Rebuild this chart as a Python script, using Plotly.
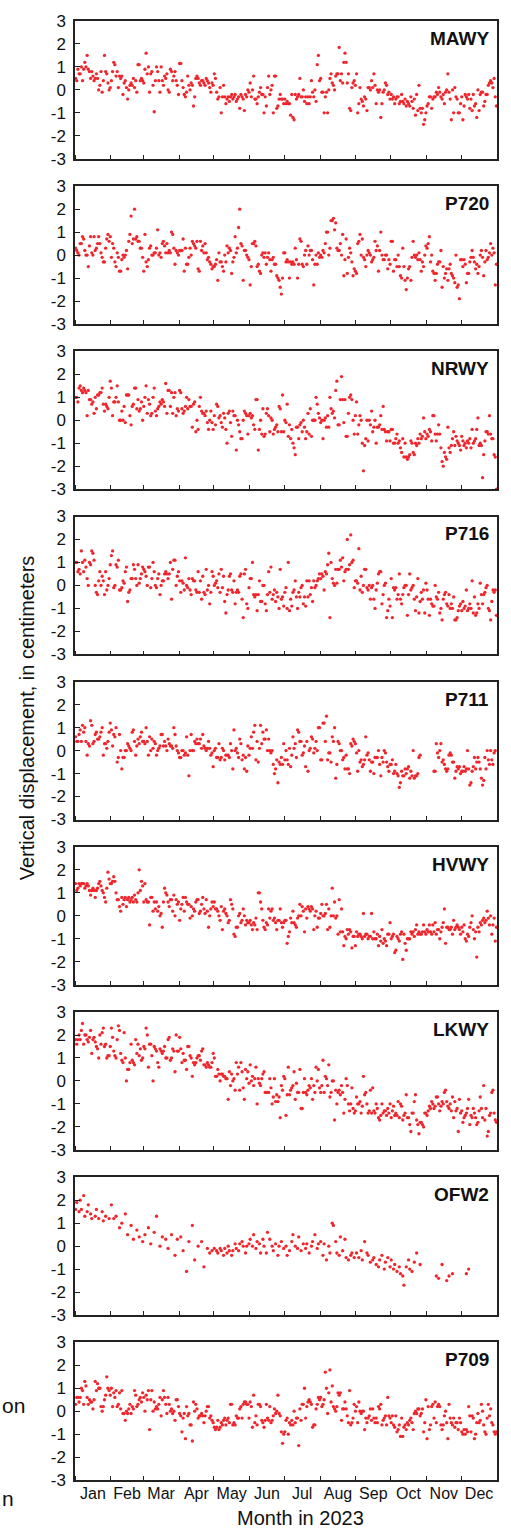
import datetime as dt
import plotly.graph_objects as go

STATIONS = ["MAWY", "P720", "NRWY", "P716", "P711", "HVWY", "LKWY", "OFW2", "P709"]
MONTHS = ["Jan", "Feb", "Mar", "Apr", "May", "Jun", "Jul", "Aug", "Sep", "Oct", "Nov", "Dec"]
YTICKS = [-3, -2, -1, 0, 1, 2, 3]
N = None

# daily vertical displacement (cm), one list per month
MAWY = [
 [0.5,0.4,0.9,0.7,0.7,1.0,0.4,0.9,1.2,1.0,1.5,0.9,0.8,0.5,0.8,0.6,0.4,0.5,0.7,0.5,0.0,0.2,0.8,-0.1,0.4,1.5,0.8,0.7,0.3,0.0,0.1],
 [0.4,0.8,1.2,1.1,0.6,0.8,0.1,0.6,0.5,0.6,-0.2,0.3,0.4,0.1,-0.4,0.0,0.2,0.3,0.2,0.5,0.1,0.4,-0.1,1.1,1.1,0.4,0.5,0.4],
 [0.3,0.9,1.6,0.7,1.0,-0.1,0.7,0.8,0.2,-0.95,0.4,1.0,0.8,0.4,-0.1,1.0,0.4,0.2,0.6,0.5,0.7,0.0,-0.1,0.9,0.8,0.4,0.6,0.8,0.4,0.2,-0.2],
 [1.15,1.15,0.4,0.1,-0.2,-0.3,-0.1,0.6,0.2,0.0,0.3,0.2,-0.7,-0.3,0.5,0.6,0.5,0.3,0.2,0.4,0.4,0.3,0.2,0.5,0.4,0.3,0.1,-0.1,0.3,0.2],
 [0.7,0.5,-0.1,-0.4,-0.3,0.1,-1.0,-0.3,0.2,-0.3,-0.6,-0.4,-0.3,-0.5,-0.3,-0.2,-0.4,-0.3,-0.2,-0.5,-0.4,-0.3,-0.8,-0.2,-0.3,-0.4,-0.9,-0.2,-0.3,0.0,-0.1],
 [0.3,-0.3,0.0,0.6,-0.4,-0.4,-0.6,-0.3,-0.1,0.1,-0.2,-0.2,-1.0,-0.3,-0.7,0.1,0.6,-0.2,0.0,0.2,-1.0,0.6,0.6,-0.8,-0.7,-0.4,-0.2,-0.4,-0.4,-0.6],
 [-0.4,-0.6,-0.5,-0.6,-0.6,-1.1,-0.2,-1.2,-1.3,-0.2,-0.4,-0.3,-0.2,0.5,-0.3,-0.3,0.0,-0.5,-0.3,-0.6,-0.3,-0.6,-0.3,0.4,-0.1,-0.3,0.0,-0.5,1.1,1.5,0.4],
 [0.5,-0.1,-0.1,-1.0,-0.3,-0.1,-1.0,0.0,0.5,0.7,0.3,0.2,0.0,0.6,0.7,0.7,1.85,0.4,0.7,0.3,1.2,1.6,1.2,0.3,0.7,-0.8,-0.9,0.1,0.3,0.4,0.2],
 [0.7,-1.0,-0.6,0.1,-0.4,-0.5,-0.7,-0.3,-0.4,-0.9,0.1,0.1,0.0,0.4,0.1,0.7,0.2,-0.6,0.0,-0.1,0.0,-1.2,-0.6,-0.1,0.0,0.3,0.2,-0.2,-0.1,-0.4],
 [-0.2,-0.4,-0.3,-0.6,-0.4,-0.3,-0.3,-0.6,-0.5,-0.2,-0.5,-0.6,-0.4,-0.7,-0.5,-0.6,-0.7,-0.3,-0.5,-0.8,-0.4,-1.1,-0.2,-0.9,0.2,-0.8,-1.0,-0.8,-1.5,-1.3,-1.0],
 [-0.7,-0.6,-0.3,-0.3,-0.8,-0.4,-0.3,-0.3,-0.1,-0.2,0.1,-0.1,-0.3,-0.4,-0.2,-0.6,-0.1,0.0,0.7,-0.1,-0.4,-1.3,0.0,-1.0,0.1,-0.3,-0.4,-1.0,-1.0,-0.6],
 [-0.3,-1.3,-0.7,-0.2,-0.3,-0.4,-0.2,-0.8,-0.4,-0.9,-0.2,-0.7,-0.6,-1.2,0.0,-0.9,-0.2,-0.1,-0.1,-0.7,-0.5,-0.2,-0.2,0.2,0.3,0.4,0.3,0.1,0.5,-0.3,-0.7],
]
P720 = [
 [0.3,0.2,0.1,0.0,0.5,0.5,0.8,0.7,0.2,0.0,0.0,-0.5,0.4,0.8,0.1,0.0,0.8,0.2,0.3,0.5,0.8,0.5,0.1,-0.1,-0.3,-0.3,0.3,0.7,0.9,0.6,0.8],
 [-0.1,0.5,0.3,-0.3,-0.5,0.1,-0.1,-0.7,-0.7,-0.2,0.0,-0.1,0.0,0.2,-0.6,0.6,0.9,1.7,0.5,0.7,2.0,0.7,0.8,0.6,0.6,0.3,0.3,-0.1],
 [-0.7,0.9,-0.3,-0.5,-0.2,0.3,0.4,0.0,0.0,0.1,0.1,0.3,1.1,0.0,0.1,-0.1,0.5,0.6,0.4,0.1,0.5,0.1,0.2,0.1,1.0,0.9,0.3,-0.4,0.2,0.1,0.0],
 [0.2,0.2,0.2,0.7,-0.7,0.3,-0.4,-0.4,-0.1,0.3,0.0,0.6,0.5,0.4,0.3,0.6,-0.6,-0.7,0.6,0.2,0.4,0.1,0.5,0.1,-0.2,-0.1,-0.3,-0.4,-0.6,-0.5],
 [-0.5,-0.4,-0.2,-1.1,0.1,-0.3,-0.3,-0.5,-0.7,0.0,-0.3,0.4,0.1,0.3,0.2,-0.8,-0.3,-0.1,0.8,0.1,0.3,1.2,2.0,0.5,0.4,-1.1,0.2,0.2,0.0,-0.1,-0.2],
 [-1.3,-0.5,0.5,0.5,0.6,0.4,-0.5,-0.4,-0.7,-0.8,0.0,0.1,-0.1,0.1,-0.4,-0.1,0.1,-0.2,-0.7,-0.2,-0.1,-0.4,-0.4,-0.9,-1.0,-1.1,-1.4,-1.7,-1.0,0.1],
 [0.1,-0.3,-0.2,-0.3,-1.0,-0.3,-0.4,-0.3,-0.4,0.3,-0.2,-1.0,-0.4,0.7,0.6,-0.4,-0.5,0.0,0.2,-0.4,0.4,0.0,0.2,0.2,-0.2,-1.3,-0.4,0.0,-0.4,0.1,-0.1],
 [0.0,-0.1,0.2,0.1,0.5,1.0,1.0,0.0,0.3,1.5,1.5,1.6,1.1,1.4,0.3,0.2,0.2,0.5,0.0,0.9,-0.9,-0.2,0.7,-0.8,-0.1,0.3,0.1,-0.3,-0.9,-0.6,-0.7],
 [-0.8,0.5,0.6,0.9,0.0,0.7,-0.1,-0.2,-0.5,0.0,0.2,0.1,0.0,-0.3,-0.2,-0.1,0.6,0.2,0.4,-0.7,0.2,1.0,0.0,-0.2,-0.2,0.0,0.0,-0.6,-0.2,-0.4],
 [0.6,0.6,-0.7,-0.2,-0.2,-0.5,0.0,-0.5,-0.9,-1.0,0.3,-0.5,-1.1,-1.5,-1.0,-0.6,-0.5,-1.1,-0.1,0.6,0.0,-0.1,0.0,-0.2,0.1,-0.2,-0.7,-0.3,-0.5,0.0,0.4],
 [0.3,0.5,0.8,-0.3,0.0,-0.7,-0.8,-1.1,-0.8,-0.4,-0.3,-0.3,0.2,-1.4,-0.5,-1.0,-0.8,-0.6,-1.1,-0.6,-0.4,-0.8,-0.9,-1.0,-1.2,0.0,-1.4,-1.3,-1.9,-0.2],
 [-0.2,-0.5,-0.2,-0.4,-1.2,-0.8,-0.8,-0.3,-0.1,0.2,-0.1,-0.3,-0.6,-0.4,-0.8,-0.5,0.0,0.2,-0.1,-0.9,-0.3,0.2,-0.2,-0.1,0.1,0.5,0.0,0.3,0.1,-1.3,-0.4],
]
NRWY = [
 [1.0,1.0,0.8,1.4,1.5,1.3,1.2,1.4,1.3,1.2,0.2,1.3,0.9,0.9,0.7,0.8,0.3,1.0,0.5,1.1,1.1,1.2,1.2,1.4,0.7,0.4,0.7,0.6,0.5,1.0,1.7],
 [1.4,0.2,0.8,0.8,1.0,1.5,0.8,0.0,0.0,0.4,0.0,0.6,-0.1,1.1,1.1,1.1,0.2,-0.2,0.6,0.7,1.4,1.4,0.5,0.9,0.4,0.5,0.8,0.0],
 [0.6,1.0,1.5,0.3,0.9,0.7,0.2,0.3,1.0,1.4,0.4,0.2,0.5,0.6,0.8,0.7,0.9,0.8,0.6,1.6,0.3,1.3,1.3,0.6,1.2,0.3,1.0,1.2,0.2,0.5,0.4],
 [1.3,1.2,0.5,0.3,0.4,0.6,1.0,0.5,0.9,0.6,0.6,-0.3,0.7,0.8,-0.5,0.0,-0.4,0.6,1.0,0.4,0.3,0.3,0.2,0.4,-0.1,-0.4,0.0,0.4,-0.1,-0.4],
 [0.2,-0.2,0.7,0.6,0.1,0.2,-0.1,-0.3,0.3,0.1,-0.4,-1.0,0.3,0.4,-0.1,-0.7,0.4,0.2,0.2,-1.3,0.0,-0.2,-0.5,-0.8,-0.8,0.0,0.4,0.3,0.2,-0.6,0.2],
 [0.3,0.1,0.2,-0.2,-0.4,0.9,0.9,-1.3,-0.4,0.0,-0.6,0.5,-0.7,-0.6,0.3,0.5,0.2,-0.5,0.1,0.0,-0.6,-0.4,-0.3,-0.2,-0.5,0.6,0.5,-0.5,1.1,-0.5],
 [0.0,-0.1,0.7,-0.7,-0.2,-0.8,-0.4,-1.0,-1.2,-1.5,-0.3,-0.3,-0.8,-0.2,-0.1,-0.5,0.0,-0.3,-0.8,-0.5,0.3,-0.6,0.5,-0.7,0.0,0.0,0.0,1.0,0.7,0.3,0.1],
 [-0.1,0.0,-0.8,0.0,0.1,-0.3,0.2,-0.3,1.0,0.5,0.3,0.4,0.1,1.3,1.7,-0.2,-0.2,0.9,1.9,0.9,-0.1,0.9,-0.7,-0.7,0.3,1.0,1.1,0.9,0.0,-0.6,0.2],
 [0.8,-0.6,-0.2,0.2,0.0,-1.0,-2.2,-1.1,-0.8,0.0,-0.9,0.0,-0.2,0.4,-0.5,-0.3,0.0,-1.0,-0.3,-0.3,-0.2,0.2,-0.4,0.6,-0.4,-0.5,-0.9,-0.5,-0.5,-0.9],
 [-0.4,-0.4,-1.0,-1.0,-0.8,-0.6,-1.0,-0.9,-1.2,-1.4,-0.8,-1.6,-1.0,-1.6,-1.7,-1.6,-1.5,-0.9,-1.0,-1.4,-1.5,-1.0,-1.1,-0.8,-1.0,-0.6,-0.8,-0.7,0.1,-0.5,-0.8],
 [-0.6,-0.7,-0.4,-0.5,-0.9,0.2,0.2,-0.6,-0.9,-0.6,-0.2,-0.6,-1.2,-1.8,-2.0,-1.4,-1.6,-1.7,-0.3,-1.2,-1.4,-1.1,-0.8,-0.5,-1.1,-0.7,-0.9,-1.0,-1.1,-1.3],
 [-0.7,-0.9,-1.1,-1.0,-1.2,-0.9,-1.0,-0.8,-1.2,-0.4,-1.0,-0.9,-0.8,-0.4,0.1,-1.1,-1.0,-1.1,-2.5,-1.5,-0.9,-0.5,-0.5,-0.6,0.2,-0.6,-0.8,-0.8,-1.5,-1.6,-3.0],
]
P716 = [
 [1.0,1.0,0.6,0.7,0.5,1.5,1.0,0.6,1.1,0.8,0.3,0.0,1.0,0.9,1.5,1.4,1.1,0.0,-0.3,-0.4,0.2,0.6,0.0,0.4,0.2,-0.4,0.6,-0.2,0.0,0.3,0.9],
 [1.3,1.5,-0.1,0.0,0.9,0.8,1.1,-0.2,-0.2,-0.1,0.2,0.1,0.6,0.8,-0.7,-0.3,-0.2,0.3,0.3,0.9,0.7,0.3,0.0,0.9,0.1,0.3,0.5,0.8],
 [0.7,0.6,0.4,0.0,0.8,0.8,-0.1,0.3,1.0,0.6,0.0,-0.1,0.3,0.5,-0.4,0.0,0.2,0.2,0.5,0.6,0.5,0.3,0.5,1.0,-0.6,0.7,1.1,1.1,0.0,0.4,0.6],
 [0.2,-0.3,0.2,0.1,-0.2,1.2,0.0,-0.1,0.3,-0.2,-0.4,0.3,0.2,0.2,-0.2,-0.3,0.6,-0.3,0.2,-0.6,0.4,-0.3,-0.4,0.7,-0.2,0.0,-0.8,-0.3,0.6,0.4],
 [0.0,0.1,0.2,-0.1,0.5,-0.3,0.7,-0.1,0.4,-0.7,-1.2,-0.4,-0.2,0.4,0.5,-0.2,-0.3,0.2,-0.8,-0.3,-0.2,-0.3,0.4,0.5,-0.6,-1.4,0.5,0.7,-0.8,-1.0,-0.1],
 [0.3,0.3,1.0,-0.4,-0.5,-0.4,-1.1,-0.4,0.2,-0.7,-0.7,0.0,0.0,-0.8,-1.1,-0.4,0.6,-0.3,0.8,-0.6,-0.4,-0.2,-0.7,-0.3,-0.5,-1.0,0.7,-0.6,-0.5,-0.9],
 [-0.3,-0.1,-1.0,1.0,-1.1,-0.6,-0.9,-0.3,-0.2,0.2,-0.5,-1.0,-0.3,-0.5,-0.1,0.0,-0.8,-0.5,-0.9,0.2,-0.5,0.2,-0.4,-0.1,-0.7,0.2,-0.1,0.0,0.2,0.3,0.5],
 [0.3,0.5,0.4,-0.2,0.6,0.5,0.9,1.4,-1.4,1.0,0.3,0.1,0.0,0.7,0.1,0.7,0.7,1.1,0.8,1.2,0.2,0.6,0.7,2.0,0.7,0.9,2.2,1.0,1.1,-0.1,0.2],
 [0.2,0.1,1.6,-0.2,0.4,-0.3,0.0,0.7,0.7,-0.1,-0.2,0.0,-0.6,-0.1,0.0,-0.6,-1.0,-0.2,0.1,0.5,0.6,0.6,-0.8,-0.4,0.0,0.1,-1.4,-1.1,-0.6,-0.9],
 [0.3,-1.4,-0.1,-0.2,-0.1,-0.6,-0.4,0.5,-0.6,-0.8,-0.4,-0.1,0.0,0.0,-1.3,-0.4,0.5,-0.2,-0.1,0.0,-0.6,-1.1,-0.5,0.3,-1.2,-0.7,-0.3,-0.6,-0.2,-1.2,0.1],
 [-0.2,-0.6,-1.3,-0.6,-0.8,-0.9,-0.9,0.0,-0.5,-0.6,-0.3,-1.2,-1.0,-1.5,-0.6,-0.4,-0.3,-0.8,-0.9,-0.4,-1.0,-0.8,-1.0,-0.5,-1.5,-1.5,-1.4,-1.1,-0.9,-0.8],
 [-1.1,-0.7,-1.0,-0.9,-0.2,-1.1,-1.0,-0.8,-1.0,0.2,-1.2,-0.5,-1.3,-1.2,-0.8,-1.0,0.1,-0.4,-0.8,-0.4,-0.3,-0.1,0.0,-1.0,-1.1,-1.5,-0.7,-0.2,-0.3,-0.2,-1.3],
]
P711 = [
 [0.6,0.4,0.4,0.7,0.9,0.4,1.1,0.8,1.0,0.4,-0.2,0.3,0.2,1.3,1.1,0.3,0.4,0.7,0.8,0.5,0.5,0.6,0.8,1.0,-0.2,0.3,0.3,0.1,0.4,0.8,1.2],
 [0.9,0.2,0.7,0.6,1.0,-0.5,-0.3,0.7,0.0,-0.8,-0.3,-0.3,0.0,0.0,0.3,0.2,0.1,0.0,0.8,0.9,0.4,-0.2,0.2,0.5,0.3,0.6,0.8,0.4],
 [0.4,0.3,1.0,0.4,-0.2,0.6,0.0,0.5,0.1,0.4,0.3,-0.2,0.0,0.1,0.2,0.7,0.7,0.2,0.4,0.2,0.0,0.5,0.3,0.2,0.2,0.1,1.0,0.7,0.2,0.0,-0.1],
 [-0.3,-0.3,0.0,0.0,-0.2,-0.1,0.6,-0.2,-1.1,0.0,0.7,0.0,0.0,0.4,0.3,0.5,0.3,0.3,0.5,0.1,0.7,0.2,0.1,0.0,0.1,0.4,0.1,-0.2,-0.1,-0.7],
 [0.0,0.1,-0.3,-0.3,0.3,-0.4,-0.3,0.1,0.0,-0.4,-0.2,-0.2,-0.2,-0.3,0.3,0.0,-0.8,0.9,0.0,0.1,-0.1,-0.3,0.5,0.3,-0.4,-0.2,-0.8,-0.3,-0.9,0.2,-0.2],
 [0.1,0.6,0.1,0.8,1.1,-0.4,0.4,-0.5,0.1,1.1,0.3,0.8,0.5,0.5,0.9,0.0,0.5,0.0,-0.1,0.0,-0.6,-1.0,-0.8,-0.4,-1.4,-0.5,-0.6,-0.3,-0.6,0.3],
 [-0.4,0.0,-0.4,-0.6,0.1,-0.7,-0.2,0.6,0.1,0.3,-0.3,0.9,0.8,0.4,0.4,-0.2,-0.1,0.2,-0.7,0.4,-0.9,0.0,0.1,0.6,0.5,-0.1,0.1,0.4,0.0,1.0,1.0],
 [-0.4,-0.4,1.2,1.2,0.4,1.5,-0.4,-0.1,-0.1,-0.5,0.6,0.4,1.0,-1.2,-0.6,0.4,0.3,0.0,0.0,-0.4,-0.3,-0.8,-0.2,-0.8,-0.8,-1.0,0.3,0.2,0.5,0.4,0.3],
 [-0.1,-0.9,0.0,-0.5,-0.4,-0.7,-0.6,-0.4,0.6,-0.2,-0.1,-0.4,-0.9,-0.5,-0.5,-1.0,-0.3,-0.3,-0.3,0.0,-0.6,-1.1,-0.3,-0.5,0.0,-0.1,-0.5,-0.7,-0.9,-0.6],
 [-0.6,-0.4,-1.0,-0.9,-0.6,-1.0,-1.1,-1.6,-1.4,-0.9,-1.1,-1.1,-0.8,-1.0,-0.8,-0.7,-1.2,-0.9,-1.1,0.0,-1.2,-1.1,-1.1,-1.0,-0.3,-0.2,N,N,N,N,N],
 [N,N,N,N,N,N,-0.9,-0.9,0.3,-0.1,-0.3,0.0,0.3,-0.5,-0.4,-0.6,-0.8,-0.9,-0.8,-0.2,-0.1,-0.2,-0.5,-0.5,-1.2,-0.9,-0.7,-0.8,-0.7,-1.0],
 [-0.9,-0.9,-0.7,-0.9,-0.8,0.0,-0.8,-1.5,-1.4,-0.9,-0.7,-0.3,-0.8,-0.5,-0.3,-0.5,-0.8,-1.2,-1.5,-1.3,-0.3,-0.8,0.0,-0.4,-0.6,0.0,-0.4,-0.6,-0.1,0.0,N],
]
HVWY = [
 [1.4,1.1,1.2,1.4,1.3,1.4,1.4,1.4,1.2,1.3,1.4,1.3,1.1,0.9,1.1,1.2,1.1,0.8,1.1,1.2,1.4,1.5,1.3,1.1,1.0,0.8,0.6,1.2,1.9,1.6,1.4],
 [1.4,1.5,1.7,1.5,1.0,0.7,0.7,0.4,0.2,0.8,0.5,0.7,0.8,0.4,0.7,0.8,0.6,0.7,0.8,0.6,0.9,0.7,0.6,1.0,2.0,1.1,1.5,1.3],
 [0.6,1.4,0.7,0.6,0.6,-0.4,0.8,0.8,0.2,0.6,0.3,0.6,0.2,0.4,0.0,0.1,-0.5,0.6,1.2,1.0,0.9,0.6,0.4,0.7,0.7,0.2,0.9,0.0,0.7,0.5,0.6],
 [-0.2,0.3,0.5,0.8,0.2,0.8,0.6,0.5,0.5,-0.1,0.4,0.0,0.3,0.2,0.6,0.7,0.7,0.1,0.2,0.5,0.8,0.3,0.1,0.7,0.2,-0.5,0.0,0.3,0.6,0.4],
 [0.6,0.3,0.3,0.2,0.0,-0.2,0.4,-0.6,0.2,0.3,0.1,0.0,-0.3,-0.2,0.7,0.5,0.3,-0.8,-0.9,-0.5,-0.5,0.0,0.1,-0.3,-0.2,0.3,0.0,-0.4,-0.2,-0.3,-0.3],
 [-0.2,-0.4,-0.6,-0.3,-0.4,-0.1,-0.6,1.0,1.0,0.6,0.3,-0.2,-0.5,-0.6,-0.3,-0.4,0.3,-0.1,0.2,0.3,-0.2,-0.1,-0.3,-0.6,-0.2,-0.2,0.3,-0.3,-0.5,-0.3],
 [-0.2,-0.2,-1.2,-0.9,-0.7,-0.1,-0.3,0.2,-0.3,-0.4,-0.5,-0.1,0.0,0.5,0.0,0.4,0.2,-0.7,0.3,-0.1,0.4,0.3,0.2,0.4,0.3,-0.6,0.0,0.2,-0.5,-0.1,-0.1],
 [0.1,0.5,0.0,0.0,0.1,0.5,-0.6,0.3,-0.5,0.0,1.2,0.0,0.6,-0.1,0.0,-0.8,0.7,-0.7,0.3,-0.7,-1.3,-0.9,-1.0,-0.6,-0.8,-0.6,-0.7,-1.4,-0.9,-0.9,-1.3],
 [-0.7,-0.9,-0.8,-0.8,-0.9,-1.0,0.1,-0.9,-0.8,-0.8,-1.0,-0.9,-0.9,0.1,-1.0,-0.7,-1.0,-1.0,-0.8,-1.3,-0.9,-1.1,-0.6,-1.2,-1.0,-1.1,-1.3,-0.8,-0.8,-0.3],
 [-1.0,-0.9,-0.8,-1.6,-1.5,-0.9,-1.0,-1.1,-0.8,-0.7,-1.9,-0.8,-1.2,-1.5,-1.0,-1.0,-1.0,-0.7,-0.8,-0.7,-0.9,-0.6,-0.4,-0.8,-0.7,-0.8,-0.8,-0.7,-0.4,-0.7,-0.8],
 [-0.6,-0.7,-0.4,-0.7,-0.8,-0.4,-0.7,-0.3,-0.8,-0.6,-0.6,-1.0,-0.7,-0.5,-0.3,0.3,-1.2,-0.5,-0.5,-0.6,-0.6,-0.5,-0.8,-0.2,-0.6,-0.5,-0.4,-0.5,-0.6,-0.8],
 [-0.5,-0.7,-0.4,-1.0,-1.1,-0.8,-0.9,-0.5,-0.3,0.0,-0.6,-1.0,-0.7,-1.8,-0.5,-0.7,-0.3,-0.4,-0.2,-0.1,-0.3,-0.2,0.2,-0.1,-0.4,0.0,-0.8,-0.4,-0.1,-1.1,-0.5],
]
LKWY = [
 [1.8,1.6,1.8,2.0,1.8,2.2,2.5,1.6,2.0,2.0,1.8,1.7,1.9,2.2,1.2,1.8,1.9,1.7,1.5,1.4,1.0,2.0,1.6,2.1,2.3,1.5,1.6,1.0,1.1,1.1,1.5],
 [2.3,1.9,1.3,1.1,1.0,1.8,2.4,2.2,1.2,0.9,0.8,2.1,1.0,0.0,0.5,0.5,0.8,1.6,0.9,0.8,0.7,1.8,1.2,1.6,1.1,1.4,0.9,1.0],
 [1.5,1.4,2.3,2.0,0.6,1.6,1.6,1.1,0.0,1.5,1.4,1.3,0.8,0.6,1.4,1.3,1.2,1.3,1.5,1.0,1.0,1.8,1.9,0.9,1.0,1.4,1.3,0.4,2.0,1.3,1.3],
 [1.9,1.4,0.8,1.2,0.9,0.9,0.5,1.5,1.5,1.1,1.0,0.2,0.8,0.7,0.8,1.0,1.1,1.1,0.9,1.3,1.4,0.7,0.7,0.6,0.8,0.7,0.6,0.6,0.8,1.2],
 [1.0,0.2,0.2,0.5,0.3,0.0,0.3,0.3,0.2,0.2,0.1,0.1,-0.8,0.4,-0.2,0.3,0.0,0.1,-0.4,0.8,0.3,0.6,-0.4,0.8,0.4,-0.3,-0.8,0.5,0.1,0.4,-0.1],
 [0.7,0.0,0.2,-0.2,0.1,0.6,-1.0,0.1,-0.1,-0.2,0.1,0.3,0.4,-0.5,-0.5,-0.5,-0.5,0.1,-0.3,-1.0,-0.7,0.1,-0.9,-0.6,-0.9,-0.7,-1.6,-0.2,-0.4,0.2],
 [0.1,-1.5,-0.6,0.6,-0.6,-0.4,-0.3,-0.2,0.4,-0.8,-0.1,-0.5,-0.5,0.5,-1.2,-1.2,-0.5,0.1,-0.5,-0.6,-0.4,-0.2,-0.3,0.1,-0.8,-0.2,-0.5,0.6,0.0,0.5,-0.3],
 [-0.5,-0.2,0.9,-0.5,0.2,0.1,-0.2,0.7,-0.7,-0.5,0.0,0.0,-1.7,-0.4,-1.0,-0.5,-0.4,-0.6,-0.2,-0.5,-1.4,-0.8,0.1,-0.2,-1.0,-1.3,-1.0,-0.3,-1.2,-1.4,-1.3],
 [-0.7,-1.0,-1.0,-0.9,-1.4,-1.1,0.2,-0.6,-0.5,-1.0,-1.4,-1.3,-0.4,-1.4,-0.3,-1.3,-1.4,-1.0,-1.2,-1.6,-1.7,-1.5,-1.0,-1.4,-1.3,-1.3,-1.5,-1.2,-1.4,-1.0],
 [-1.6,-1.3,-1.1,-1.5,-1.4,-1.5,-0.9,-1.6,-1.0,-1.1,-1.7,-1.5,-1.4,-0.6,-1.6,-1.6,-1.9,-2.2,-1.4,-1.4,-0.9,-0.6,-1.7,-1.9,-2.3,-1.8,-1.8,-1.9,-2.0,-1.4,-1.4],
 [-1.5,-1.3,-1.1,-1.2,-0.9,-1.0,-1.2,-1.1,-0.7,-0.7,-1.0,-1.3,-1.1,-0.9,-1.0,-0.5,-0.4,-0.9,-1.1,-1.2,-1.0,-1.3,-0.7,-1.6,-0.9,-1.3,-1.2,-2.2,-0.8,-1.4],
 [-1.3,-1.8,-1.6,-1.5,-1.4,-1.2,-0.8,-1.9,-1.5,-1.6,-1.2,-1.4,-1.6,-1.9,-1.8,-1.3,-0.7,-1.2,-1.6,-0.2,-1.7,-1.2,-2.4,-2.2,-1.5,-1.4,-0.5,-0.4,-1.4,-1.7,-1.8],
]
OFW2 = [
 [1.6,1.9,N,1.5,2.0,1.6,N,2.2,1.3,N,1.5,1.8,N,1.4,1.2,N,N,1.3,1.6,N,1.2,N,N,1.5,1.1,N,1.3,N,N,1.2,N],
 [1.8,N,1.2,N,1.3,N,N,0.8,N,1.0,N,N,1.4,N,0.5,N,N,0.9,N,0.3,N,N,0.7,N,0.4,N,N,0.2],
 [N,0.5,N,N,0.8,N,0.1,N,N,0.6,N,1.3,N,N,0.0,N,0.4,N,N,0.3,N,-0.1,N,N,0.5,N,N,-0.4,N,0.3,N],
 [N,0.4,N,-0.2,N,N,-1.1,N,0.2,N,N,0.9,N,-0.6,N,N,0.0,N,N,0.2,N,-0.9,N,N,-0.1,N,-0.3,N,-0.2,N],
 [-0.1,N,-0.2,-0.3,N,-0.1,-0.2,N,-0.4,-0.1,N,-0.3,0.0,-0.2,N,-0.4,-0.2,N,0.1,-0.1,N,-0.2,0.1,N,0.2,0.0,N,-0.3,0.0,N,0.1],
 [0.3,N,0.0,0.5,N,-0.1,0.2,N,0.1,-0.3,N,0.3,0.0,N,-0.3,0.6,N,0.3,N,0.0,-0.2,N,0.1,N,-0.4,0.0,N,0.2,N,-0.1],
 [N,0.0,-0.4,N,-0.2,N,0.2,0.5,N,0.0,N,-0.1,0.4,N,-0.2,N,0.1,N,-0.1,0.1,N,-0.3,N,0.0,0.2,N,0.5,N,-0.1,0.1,N],
 [0.2,N,-0.4,0.1,N,-0.6,N,0.0,-0.3,N,1.0,0.9,N,0.2,-0.3,N,-0.4,0.4,N,-0.2,N,0.3,-0.5,N,-0.6,N,-0.4,-0.3,N,-0.5,N],
 [-0.3,N,-0.5,N,-0.2,-0.6,N,0.2,N,-0.3,-0.4,N,-0.7,N,-0.6,-0.5,N,-0.8,N,-0.9,-0.6,N,-0.4,N,-1.0,-0.7,N,-0.5,N,-0.9],
 [-0.6,N,-1.0,-0.8,N,-1.1,N,-0.9,-1.2,N,-1.3,-1.7,N,-0.9,N,-0.6,-1.0,N,-1.1,N,-0.7,N,-0.3,N,N,-0.8,N,N,N,N,N],
 [N,N,N,N,N,N,N,N,-1.3,N,-1.4,N,N,-0.8,N,N,N,-1.5,N,-1.3,N,N,-1.2,N,N,N,N,N,N,N],
 [N,N,N,N,-1.2,N,-1.0,N,N,N,N,N,N,N,N,N,N,N,N,N,N,N,N,N,N,N,N,N,N,N,N],
]
P709 = [
 [0.3,0.6,0.6,0.4,0.6,1.0,0.9,0.3,1.3,1.1,0.6,0.3,0.5,0.4,0.4,0.1,0.5,1.3,0.9,1.2,1.0,1.0,0.2,0.0,0.2,0.5,0.7,1.5,1.0,0.9,0.7],
 [1.0,0.2,0.8,0.6,0.9,0.2,0.3,0.8,0.1,0.9,-0.1,-0.1,-0.4,0.0,-0.1,0.1,0.3,-0.1,0.2,0.1,0.9,0.7,0.2,0.3,0.5,0.6,0.4,0.8],
 [0.6,0.0,0.7,0.5,0.9,-0.8,0.5,0.9,0.0,0.4,0.1,0.2,0.1,0.3,0.6,-0.2,0.5,0.9,0.6,0.3,-0.1,0.6,0.3,0.0,0.1,-0.1,0.0,-0.4,0.5,0.5,0.2],
 [-0.1,-0.2,-0.9,-0.3,-0.1,-1.2,0.2,-0.2,-0.1,-0.6,-0.6,-1.3,0.4,0.0,0.3,0.1,-0.3,-0.2,-0.2,-0.1,-0.2,-0.5,-0.2,0.0,0.2,0.2,-0.3,-0.2,-0.4,-0.5],
 [-0.7,-0.8,-0.7,-0.4,-0.8,-0.7,-0.5,-0.6,-0.4,-0.3,-0.6,-0.4,-0.3,-0.5,0.3,0.3,-0.6,-0.5,-0.6,-0.2,-0.3,-0.3,0.1,0.2,-0.3,0.3,0.4,0.4,0.3,0.3,-0.3],
 [0.4,0.2,-0.7,0.7,-0.5,-0.2,-0.6,0.3,0.3,0.2,-0.4,-0.5,-0.7,-0.4,0.3,-0.3,-0.4,0.2,-0.5,-0.4,-0.2,0.1,-0.1,0.0,0.7,-0.1,-0.2,-0.9,-1.4,-1.0],
 [-0.9,-0.4,-0.3,-1.0,-0.5,-0.6,-0.4,-0.6,0.0,-0.5,-0.3,-0.3,-1.5,0.1,-0.4,0.3,0.3,1.0,-0.3,0.2,0.4,0.5,0.4,0.3,-0.7,-0.6,-0.6,0.1,0.3,0.6,0.5],
 [0.6,0.2,0.3,0.5,1.7,1.0,-0.1,0.8,1.8,0.4,1.1,0.2,0.1,0.0,0.2,0.8,0.7,0.8,-0.4,0.1,0.1,0.4,0.1,-0.2,-0.5,0.9,-0.6,-0.5,-0.3,0.3,0.0],
 [0.2,-0.5,0.4,0.0,-0.1,0.0,0.0,-0.8,-0.3,-0.5,-0.3,-0.2,0.1,-0.4,0.1,-0.3,-0.5,-0.3,-0.5,0.2,0.1,0.3,-0.6,-0.4,-0.3,-0.2,-0.6,0.6,-0.2,-0.3],
 [-0.5,-0.2,-0.6,-0.7,-0.2,-0.9,-0.8,-0.6,-1.1,-0.3,-1.1,-0.7,-0.6,-0.8,-0.5,-0.6,-0.4,-0.3,-0.5,-0.8,-0.1,0.0,-0.1,0.1,0.1,-0.2,-0.1,0.1,-0.9,-0.5,0.5],
 [-1.2,0.2,-0.8,-0.6,0.2,0.3,-0.3,0.4,-0.5,0.2,0.3,0.2,-0.6,-0.8,-0.6,-0.2,0.0,-0.5,-1.2,0.3,-0.3,-0.5,-0.6,-0.3,-0.7,-0.5,-0.5,-0.8,-0.3,-0.5],
 [-0.9,-1.0,-0.8,-1.0,-0.8,-0.9,0.2,-0.2,-0.9,-0.2,-0.3,-1.2,-1.0,-0.5,-0.1,-0.5,-0.4,0.3,0.0,-0.6,-0.9,-1.0,-0.3,0.3,-0.2,0.1,-0.5,-0.6,-0.9,-1.0,-0.9],
]
SERIES = [MAWY, P720, NRWY, P716, P711, HVWY, LKWY, OFW2, P709]

W, H = 511, 1530
ML, MR, MT, MB = 75, 12, 19, 50
PH = H - MT - MB
PW = W - ML - MR
PANEL_H, STEP = 138, 165.4
FONT = "Liberation Sans, Arial, sans-serif"
NARROW = "Liberation Sans Narrow, Liberation Sans, sans-serif"


def flatten(months):
    xs, ys = [], []
    for m, vals in enumerate(months):
        start = dt.date(2023, m + 1, 1)
        nxt = dt.date(2024, 1, 1) if m == 11 else dt.date(2023, m + 2, 1)
        for i, v in enumerate(vals):
            d = start + dt.timedelta(days=i)
            if d >= nxt or v is None:
                continue
            xs.append(d.isoformat() + " 12:00")
            ys.append(v)
    return xs, ys


def px_x(p):
    return (p - ML) / PW


def px_y(p):
    return (H - MB - p) / PH


fig = go.Figure()
layout = {}
annotations = []
for k, (name, data) in enumerate(zip(STATIONS, SERIES)):
    idx = "" if k == 0 else str(k + 1)
    xs, ys = flatten(data)
    fig.add_trace(go.Scatter(
        x=xs, y=ys, mode="markers", xaxis="x" + idx, yaxis="y" + idx,
        marker=dict(color="#f0262c", size=3.3, line=dict(width=0)),
        showlegend=False, hoverinfo="x+y", cliponaxis=False))
    top = MT + STEP * k
    bot = top + PANEL_H
    dom = [max(0.0, min(1.0, px_y(bot))), max(0.0, min(1.0, px_y(top)))]
    last = (k == len(STATIONS) - 1)
    layout["xaxis" + idx] = dict(
        type="date", range=["2023-01-01", "2024-01-01"], domain=[0, 1],
        anchor="y" + idx, tick0="2023-01-01", dtick="M1", ticks="inside",
        ticklen=4, tickwidth=1, tickcolor="#222", showline=True, mirror=True,
        linecolor="#222", linewidth=1.5, showgrid=False, zeroline=False,
        showticklabels=last, tickformat="%b", ticklabelmode="period",
        ticklabelstandoff=-2,
        tickfont=dict(family=FONT, size=16, color="#111"))
    layout["yaxis" + idx] = dict(
        range=[-3, 3], domain=dom, anchor="x" + idx, tickvals=YTICKS,
        ticktext=[str(v) for v in YTICKS], ticks="inside", ticklen=5,
        tickwidth=1, tickcolor="#222", showline=True, mirror=True,
        linecolor="#222", linewidth=1.5, showgrid=False, zeroline=False,
        ticklabelstandoff=4,
        tickfont=dict(family=FONT, size=17, color="#111"))
    annotations.append(dict(
        text="<b>%s</b>" % name, xref="x%s domain" % idx, yref="y%s domain" % idx,
        x=0.985, y=0.965, xanchor="right", yanchor="top", showarrow=False,
        font=dict(family=FONT, size=19, color="#111")))

annotations.append(dict(
    text="Vertical displacement, in centimeters", textangle=-90,
    xref="paper", yref="paper", x=px_x(27), y=px_y(717),
    xanchor="center", yanchor="middle", showarrow=False,
    font=dict(family=FONT, size=20, color="#111")))
annotations.append(dict(
    text="Month in 2023", xref="paper", yref="paper",
    x=px_x(302), y=px_y(1518),
    xanchor="center", yanchor="middle", showarrow=False,
    font=dict(family=FONT, size=20, color="#111")))
annotations.append(dict(
    text="on", xref="paper", yref="paper", x=px_x(0), y=px_y(1405),
    xanchor="left", yanchor="middle", showarrow=False,
    font=dict(family=NARROW, size=21, color="#111")))
annotations.append(dict(
    text="n", xref="paper", yref="paper", x=px_x(0), y=px_y(1499),
    xanchor="left", yanchor="middle", showarrow=False,
    font=dict(family=NARROW, size=21, color="#111")))

fig.update_layout(
    width=W, height=H, margin=dict(l=ML, r=MR, t=MT, b=MB, pad=0),
    paper_bgcolor="white", plot_bgcolor="white", annotations=annotations,
    **layout)
fig.write_html("out.html", config={"displayModeBar": False},
               post_script="document.body.style.margin='0';document.body.style.overflow='hidden';")
